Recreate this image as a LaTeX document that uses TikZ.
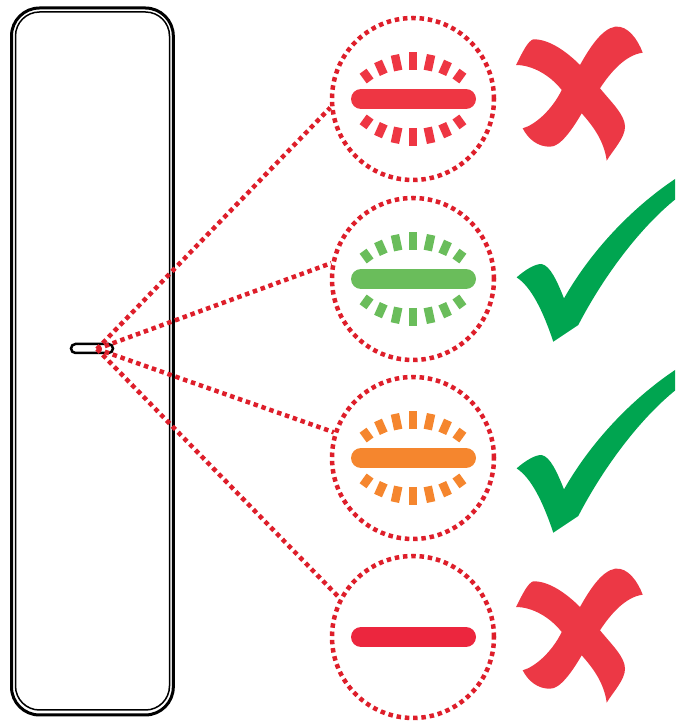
\documentclass[tikz,border=0pt]{standalone}
\definecolor{dotred}{RGB}{222,30,42}
\definecolor{ledred}{RGB}{238,54,67}
\definecolor{ledgreen}{RGB}{106,189,91}
\definecolor{ledorange}{RGB}{245,134,46}
\definecolor{ledoff}{RGB}{236,38,62}
\definecolor{crossred}{RGB}{236,56,69}
\definecolor{tickgreen}{RGB}{0,165,80}

\begin{document}
\begin{tikzpicture}[x=1pt,y=1pt]

\tikzset{lamp/.style = {shape=circle,draw=dotred,line width=4.5,dash pattern=on 4.5 off 3.8,minimum size=162,inner sep=0}}
\tikzset{link/.style = {draw=dotred,line width=4.5,dash pattern=on 4.5 off 3.8}}
\tikzset{bar/.style = {line width=20,line cap=round}}
\tikzset{ray/.style = {line width=8.5}}
\tikzset{xmark/.pic = {\fill[crossred] (-64,30) .. controls (-57,44) and (-52,54) .. (-46.7,55.7)
  .. controls (-30,56) and (-12,42) .. (0,30) .. controls (10,48) and (22,66) .. (35,68.3)
  .. controls (48,70) and (58,55) .. (62.7,42.3) .. controls (45,40) and (30,22) .. (20,6.7)
  .. controls (32,-8) and (45,-20) .. (45,-31.7) .. controls (45,-43) and (33,-55) .. (26.7,-65.7)
  .. controls (24,-45) and (12,-30) .. (1.7,-18.3) .. controls (-8,-35) and (-20,-52) .. (-30,-51.7)
  .. controls (-42,-52) and (-52,-44) .. (-57.3,-33.3) .. controls (-45,-30) and (-28,-15) .. (-18.3,5)
  .. controls (-30,20) and (-48,30) .. (-64,30) -- cycle;}}
\tikzset{tickmark/.pic = {\fill[tickgreen] (-36.7,64.3) .. controls (-28,72) and (-18,78) .. (-11.7,77.7)
  .. controls (-3,76) and (4,60) .. (10.7,43.3) .. controls (40,95) and (85,140) .. (130,168)
  -- (132,150) .. controls (90,120) and (50,65) .. (25,16.7) -- (0,0)
  .. controls (-10,30) and (-22,55) .. (-36.7,64.3) -- cycle;}}

\clip (0,0) rectangle (675,723);

%device
\draw[line width=3, rounded corners=28] (11.5,8) rectangle (173.3,715);
\draw[line width=1.5, rounded corners=24] (15.5,13) rectangle (169.5,711);
\node[draw, line width=2.5, rounded corners=4.5, minimum width=42, minimum height=9, inner sep=0] (slot) at (92,374.5) {};
\coordinate (hub) at (97,374);

%lamps
\node[lamp] (1) at (413,624) {};
\node[lamp] (2) at (413,444) {};
\node[lamp] (3) at (413,265) {};
\node[lamp] (4) at (413,86) {};
\foreach \n/\c in {1/ledred,2/ledgreen,3/ledorange} {
  \draw[bar,\c] (\n) ++(-52,0) -- ++(105,0);
  \foreach \a/\l in {0/18,12/16,-12/16,24/14,-24/14,36/12,-36/12} {
    \draw[ray,\c] (\n) ++(0,-41) ++({90+\a}:{79-\l/2}) -- ++({90+\a}:\l);
    \draw[ray,\c] (\n) ++(0,41) ++({270+\a}:{79-\l/2}) -- ++({270+\a}:\l);
  }
}
\draw[bar,ledoff] (4) ++(-52,0) -- ++(105,0);

%links
\draw[link] (hub) -- (1.186);
\draw[link] (hub) -- (2.169);
\draw[link] (hub) -- (3.162);
\draw[link] (hub) -- (4.152);

%marks
\pic at (580,628) {xmark};
\pic at (553.3,381.3) {tickmark};
\pic at (553.3,190.3) {tickmark};
\pic at (580,86) {xmark};

\end{tikzpicture}
\end{document}
